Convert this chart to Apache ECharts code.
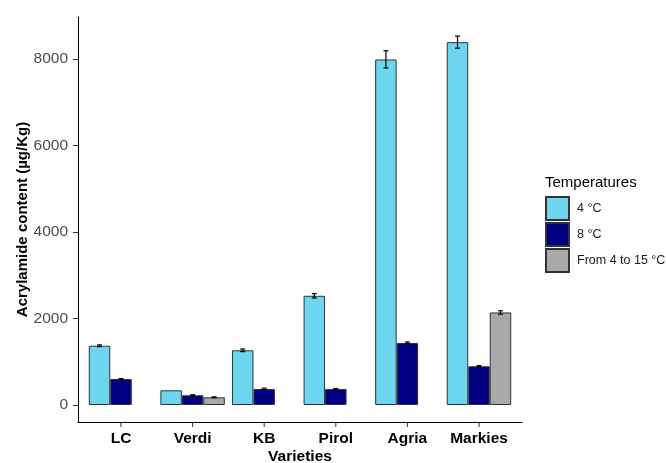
<!DOCTYPE html>
<html>
<head>
<meta charset="utf-8">
<script src="https://cdn.jsdelivr.net/npm/echarts@6/dist/echarts.min.js"></script>
<style>
  html, body { margin: 0; padding: 0; background: #fff; }
  #chart { width: 667px; height: 463px; }
</style>
</head>
<body>
<div id="chart"></div>
<script>
/* data */
var varieties = ['LC', 'Verdi', 'KB', 'Pirol', 'Agria', 'Markies'];
var seriesNames = ['4 °C', '8 °C', 'From 4 to 15 °C'];
var values4 = [1370, 340, 1265, 2525, 7990, 8390];
var values8 = [600, 225, 370, 370, 1435, 895];
var valuesRange = [null, 178, null, null, null, 2140];
var err4 = [20, 0, 30, 50, 200, 140];
var err8 = [12, 12, 18, 12, 22, 15];
var errRange = [null, 10, null, null, null, 40];
var yTicks = [0, 2000, 4000, 6000, 8000];

var colors = ['#6dd5ed', '#000080', '#a9a9a9'];
var font = '"Liberation Sans", Arial, sans-serif';

var allValues = [values4, values8, valuesRange];
var allErrs = [err4, err8, errRange];

// error bar items : [category index, value, error, group position]
var errData = [];
allValues.forEach(function (vals, k) {
    vals.forEach(function (v, i) {
        if (v != null && allErrs[k][i]) {
            errData.push([i, v, allErrs[k][i], k]);
        }
    });
});

// tick positions of the categories on the full-width axis (ggplot pads 0.6 each side)
var catTicks = varieties.map(function (d, i) { return i; });

var chart = echarts.init(document.getElementById('chart'));

var barSeries = allValues.map(function (vals, k) {
    return {
        name: seriesNames[k],
        type: 'bar',
        data: vals,
        xAxisIndex: 0,
        yAxisIndex: 0,
        barGap: '0%',
        barCategoryGap: '10%',
        itemStyle: { color: colors[k], borderColor: '#333', borderWidth: 1 }
    };
});

var errSeries = {
    type: 'custom',
    xAxisIndex: 0,
    yAxisIndex: 0,
    z: 5,
    silent: true,
    data: errData,
    renderItem: function (params, api) {
        var ci = api.value(0), v = api.value(1), e = api.value(2), k = api.value(3);
        var band = api.size([1, 0])[0];
        var group = band * 0.9;
        var bw = group / 3;
        var cx = api.coord([ci, 0])[0] - group / 2 + bw * (k + 0.5);
        var yt = api.coord([ci, v + e])[1];
        var yb = api.coord([ci, v - e])[1];
        var hw = 2.5;
        var st = { stroke: '#000', lineWidth: 1.2 };
        return {
            type: 'group',
            children: [
                { type: 'line', shape: { x1: cx, y1: yt, x2: cx, y2: yb }, style: st },
                { type: 'line', shape: { x1: cx - hw, y1: yt, x2: cx + hw, y2: yt }, style: st },
                { type: 'line', shape: { x1: cx - hw, y1: yb, x2: cx + hw, y2: yb }, style: st }
            ]
        };
    }
};

// x ticks drawn on the full-width axis, below the axis line
var tickSeries = {
    type: 'custom',
    xAxisIndex: 1,
    yAxisIndex: 1,
    z: 6,
    silent: true,
    clip: false,
    data: catTicks.map(function (i) { return [i, 0]; }),
    renderItem: function (params, api) {
        var p = api.coord([api.value(0), 0]);
        return {
            type: 'line',
            shape: { x1: p[0], y1: p[1], x2: p[0], y2: p[1] + 5 },
            style: { stroke: '#333', lineWidth: 1 }
        };
    }
};

var option = {
    backgroundColor: '#fff',
    animation: false,
    textStyle: { fontFamily: font },
    title: {
        text: 'Temperatures',
        left: 545,
        top: 175,
        padding: 0,
        textStyle: { fontFamily: font, fontSize: 15, fontWeight: 'normal', color: '#000' }
    },
    legend: {
        data: seriesNames,
        orient: 'vertical',
        left: 545,
        top: 196,
        padding: 0,
        itemWidth: 23,
        itemHeight: 23,
        itemGap: 1,
        icon: 'rect',
        textStyle: { fontFamily: font, fontSize: 12.5, color: '#1a1a1a', padding: [0, 0, 0, 3] }
    },
    grid: [
        { left: 85.2, top: 17, width: 429.6, height: 405, outerBoundsMode: 'none' },
        { left: 78, top: 17, width: 444, height: 405, outerBoundsMode: 'none' }
    ],
    xAxis: [
        {
            type: 'category',
            gridIndex: 0,
            data: varieties,
            name: 'Varieties',
            nameLocation: 'middle',
            nameGap: 27,
            nameMoveOverlap: false,
            nameTextStyle: { fontFamily: font, fontSize: 15.5, fontWeight: 'bold', color: '#000' },
            axisLine: { show: false, onZero: false },
            axisTick: { show: false },
            axisLabel: { interval: 0, margin: 9, fontFamily: font, fontSize: 15.5, fontWeight: 'bold', color: '#000' }
        },
        {
            type: 'value',
            gridIndex: 1,
            min: -0.6,
            max: 5.6,
            axisLine: { show: true, onZero: false, lineStyle: { color: '#000', width: 1 } },
            axisTick: { show: false },
            axisLabel: { show: false },
            splitLine: { show: false }
        }
    ],
    yAxis: [
        {
            type: 'value',
            gridIndex: 0,
            min: -393,
            max: 8971,
            offset: 7.2,
            name: 'Acrylamide content (µg/Kg)',
            nameLocation: 'middle',
            nameGap: 48,
            nameMoveOverlap: false,
            nameTextStyle: { fontFamily: font, fontSize: 15, fontWeight: 'bold', color: '#000' },
            axisLine: { show: true, lineStyle: { color: '#000', width: 1 } },
            axisTick: { show: true, length: 5, customValues: yTicks, lineStyle: { color: '#333' } },
            axisLabel: {
                margin: 10,
                customValues: yTicks,
                formatter: function (v) { return String(v); },
                fontFamily: font, fontSize: 15.5, color: '#4d4d4d'
            },
            splitLine: { show: false }
        },
        {
            type: 'value',
            gridIndex: 1,
            min: 0,
            max: 1,
            show: false
        }
    ],
    series: barSeries.concat([errSeries, tickSeries])
};

chart.setOption(option);
</script>
</body>
</html>
